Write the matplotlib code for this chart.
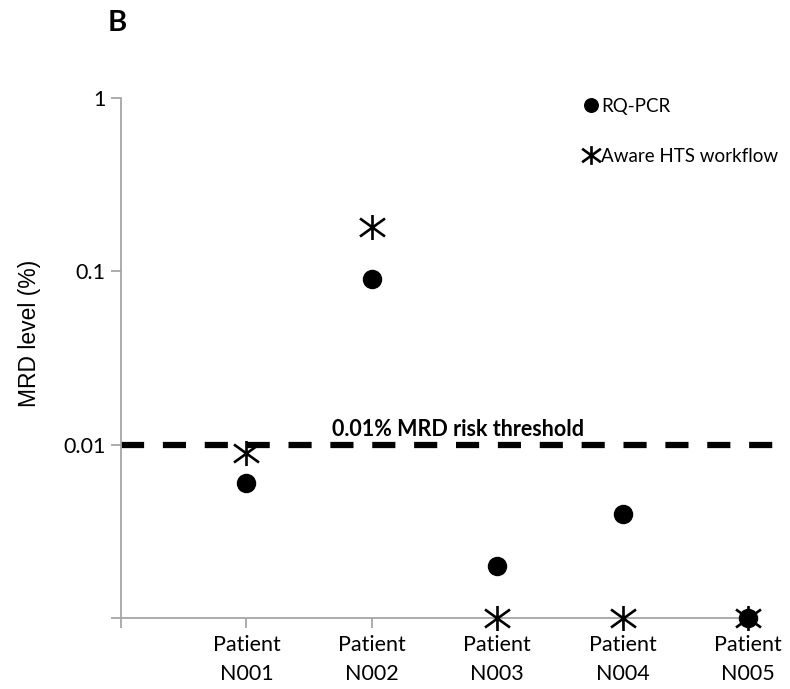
import matplotlib.pyplot as plt
from matplotlib.path import Path

plt.rcParams['font.family'] = ['Lato', 'DejaVu Sans']

# Datos (MRD en %)
pacientes = ['Patient\nN001', 'Patient\nN002', 'Patient\nN003', 'Patient\nN004', 'Patient\nN005']
posiciones = [1, 2, 3, 4, 5]
rq_pcr = [0.006, 0.09, 0.002, 0.004, 0.001]
aware_hts = [0.009, 0.18, 0.001, 0.001, 0.001]
umbral = 0.01
yticks = [0.001, 0.01, 0.1, 1]
yticklabels = ['', '0.01', '0.1', '1']

# Marcador tipo asterisco (linea vertical + X)
asterisco = Path(
    [(0, -1), (0, 1), (-1, -0.72), (1, 0.72), (-1, 0.72), (1, -0.72)],
    [Path.MOVETO, Path.LINETO, Path.MOVETO, Path.LINETO, Path.MOVETO, Path.LINETO],
)

gris = '#a6a6a6'

fig = plt.figure(figsize=(7.9, 6.89), dpi=100)
ax = fig.add_axes([0.1532, 0.1030, 0.7937, 0.7547])

ax.plot(posiciones, rq_pcr, linestyle='none', marker='o', markersize=13,
        color='black', label='RQ-PCR', clip_on=False, zorder=3)
ax.plot(posiciones, aware_hts, linestyle='none', marker=asterisco, markersize=18,
        markeredgewidth=1.9, color='black', markerfacecolor='none',
        label='Aware HTS workflow', clip_on=False, zorder=4)

# Linea de umbral
ax.axhline(umbral, xmin=0, xmax=1.047, color='black', linewidth=4.5,
           dashes=(3.7, 3.0), clip_on=False, zorder=2)
ax.text(2.69, umbral * 1.07, '0.01% MRD risk threshold', ha='center', va='bottom',
        fontsize=15.5, fontweight='bold')

ax.set_yscale('log')
ax.set_ylim(0.001, 1)
ax.set_xlim(0, 5)
ax.set_yticks(yticks)
ax.set_yticklabels(yticklabels)
ax.minorticks_off()
ax.set_xticks([0] + posiciones)
ax.set_xticklabels([''] + pacientes, linespacing=1.6)

for lado in ['top', 'right']:
    ax.spines[lado].set_visible(False)
for lado in ['left', 'bottom']:
    ax.spines[lado].set_color(gris)
    ax.spines[lado].set_linewidth(1.3)

ax.tick_params(axis='both', colors=gris, length=7, width=1.3, labelcolor='black')
ax.tick_params(axis='x', labelsize=15.5, pad=5)
ax.tick_params(axis='y', labelsize=15.5, pad=4)

ax.set_ylabel('MRD level (%)', fontsize=16.5, family='Liberation Sans')
ax.yaxis.set_label_coords(-0.127, 0.548)

ax.legend(loc='upper left', bbox_to_anchor=(0.737, 1.0), frameon=False,
          fontsize=13.5, markerscale=0.75, handlelength=0.8, handletextpad=0.15,
          labelspacing=1.75, borderaxespad=0, borderpad=0)

fig.text(0.136, 0.985, 'B', fontsize=21, fontweight='bold', va='top', ha='left')

fig.savefig('out.png', dpi=100)
